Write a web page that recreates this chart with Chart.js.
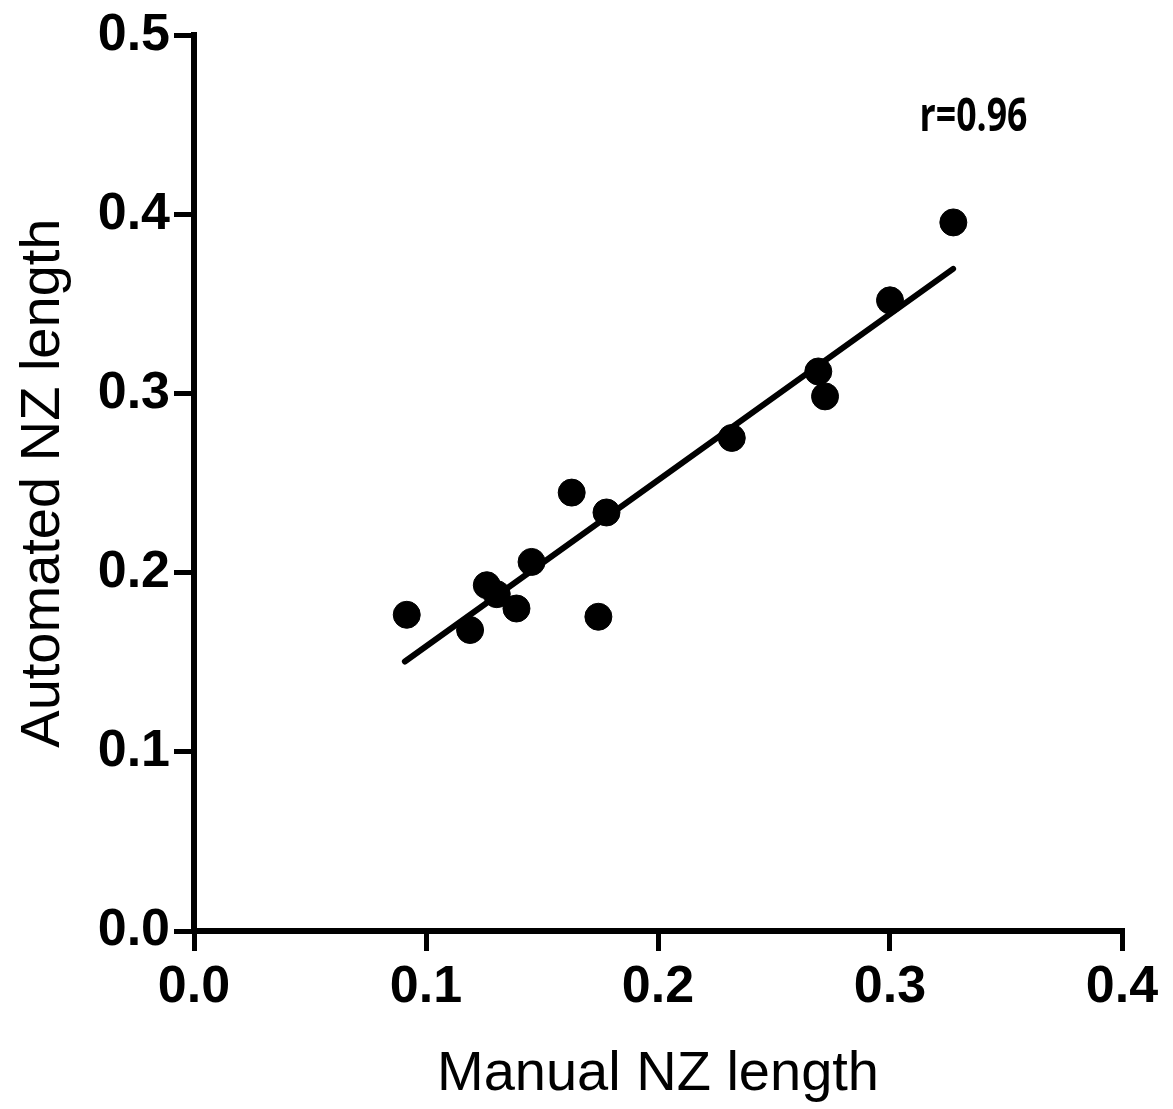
<!DOCTYPE html>
<html>
<head>
<meta charset="utf-8">
<script src="https://cdn.jsdelivr.net/npm/chart.js@4"></script>
<style>
  html, body { margin: 0; padding: 0; background: #fff; }
  #wrap { width: 1173px; height: 1109px; }
</style>
</head>
<body>
<div id="wrap"><canvas id="out"></canvas></div>
<script>
// manual vs automated NZ length
const manualLen = [0.0917, 0.119, 0.1262, 0.1305, 0.139, 0.1455, 0.1628, 0.1743, 0.1778, 0.2318, 0.2691, 0.272, 0.300, 0.3273];
const autoLen   = [0.1765, 0.168, 0.193, 0.188, 0.180, 0.206, 0.2447, 0.1754, 0.2336, 0.2752, 0.3123, 0.2984, 0.352, 0.3955];
// fitted line ends
const fitX = [0.0909, 0.3272];
const fitY = [0.1504, 0.3696];
const xTicks = [0.0, 0.1, 0.2, 0.3, 0.4];
const yTicks = [0.0, 0.1, 0.2, 0.3, 0.4, 0.5];
const rLabel = "r=0.96";
const rPos = [0.336, 0.454];

const pts = manualLen.map((x, i) => ({ x: x, y: autoLen[i] }));
const fitPts = fitX.map((x, i) => ({ x: x, y: fitY[i] }));

const tickFont = { family: "'Liberation Sans', Arial, sans-serif", size: 52, weight: "bold" };
const titleFont = { family: "'Liberation Sans', Arial, sans-serif", size: 56, weight: "normal" };

// r value text
const rText = {
  id: "rText",
  afterDatasetsDraw(chart) {
    const ctx = chart.ctx;
    const px = chart.scales.x.getPixelForValue(rPos[0]);
    const py = chart.scales.y.getPixelForValue(rPos[1]);
    ctx.save();
    ctx.fillStyle = "#000";
    ctx.font = "bold 46px 'Open Sans', sans-serif";
    ctx.textAlign = "center";
    ctx.textBaseline = "middle";
    ctx.fillText(rLabel, px, py, 108);
    ctx.restore();
  }
};

const chartConfig = {
  type: "scatter",
  data: {
    datasets: [
      {
        data: pts,
        backgroundColor: "#000",
        borderColor: "#000",
        pointRadius: 13.5,
        pointHoverRadius: 13.5,
        clip: false
      },
      {
        data: fitPts,
        showLine: true,
        borderColor: "#000",
        borderWidth: 6,
        pointRadius: 0,
        borderCapStyle: "round",
        clip: false
      }
    ]
  },
  options: {
    responsive: true,
    maintainAspectRatio: false,
    animation: false,
    layout: { padding: { top: 30, right: 51, bottom: 0, left: 0 } },
    plugins: { legend: { display: false }, tooltip: { enabled: false } },
    scales: {
      x: {
        type: "linear",
        min: 0, max: 0.4,
        afterBuildTicks: s => { s.ticks = xTicks.map(v => ({ value: v })); },
        afterFit: s => { s.height = 178; },
        ticks: { color: "#000", font: tickFont, padding: 5, maxRotation: 0,
                 callback: v => v.toFixed(1) },
        grid: { display: true, drawOnChartArea: false, drawTicks: true, tickLength: 20,
                color: "#000", lineWidth: 5 },
        border: { display: true, color: "#000", width: 6 },
        title: { display: true, text: "Manual NZ length", color: "#000", font: titleFont,
                 padding: { top: 0, bottom: 1 } }
      },
      y: {
        type: "linear",
        min: 0, max: 0.5,
        afterBuildTicks: s => { s.ticks = yTicks.map(v => ({ value: v })); },
        afterFit: s => { s.width = 194; },
        ticks: { color: "#000", font: tickFont, padding: 4,
                 callback: v => v.toFixed(1) },
        grid: { display: true, drawOnChartArea: false, drawTicks: true, tickLength: 20,
                color: "#000", lineWidth: 5 },
        border: { display: true, color: "#000", width: 6 },
        title: { display: true, text: "Automated NZ length", color: "#000", font: titleFont,
                 padding: { top: 10, bottom: 0 } }
      }
    }
  },
  plugins: [rText]
};

window.chart = new Chart(document.getElementById("out").getContext("2d"), chartConfig);
</script>
</body>
</html>
